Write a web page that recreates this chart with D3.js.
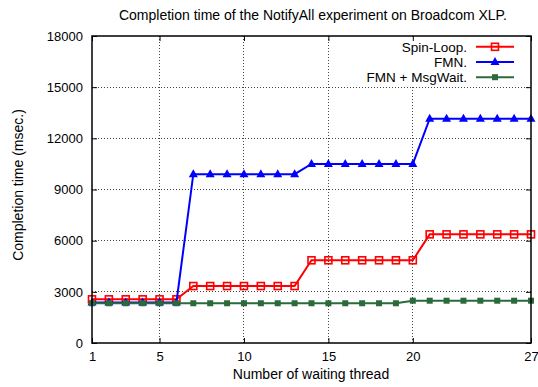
<!DOCTYPE html>
<html>
<head>
<meta charset="utf-8">
<script src="https://cdn.jsdelivr.net/npm/d3@7"></script>
<style>
  body { margin: 0; background: #fff; }
  svg { display: block; font-family: "Liberation Sans", Arial, sans-serif; }
</style>
</head>
<body>
<div id="chart"></div>
<script>
// waiting threads 1..27
const threads = [1,2,3,4,5,6,7,8,9,10,11,12,13,14,15,16,17,18,19,20,21,22,23,24,25,26,27]

const spinLoop = [2560,2560,2560,2560,2560,2560,
                  3340,3340,3340,3340,3340,3340,3340,
                  4850,4850,4850,4850,4850,4850,4850,
                  6370,6370,6370,6370,6370,6370,6370]
const fmn = [2380,2380,2380,2380,2380,2380,
             9900,9900,9900,9900,9900,9900,9900,
             10500,10500,10500,10500,10500,10500,10500,
             13150,13150,13150,13150,13150,13150,13150]
const fmnMsgWait = [2330,2330,2330,2330,2330,2330,2330,2330,2330,2330,
                    2330,2330,2330,2330,2330,2330,2330,2330,2330,
                    2480,2480,2480,2480,2480,2480,2480,2480]

const seriesNames = ['Spin-Loop.', 'FMN.', 'FMN + MsgWait.']
const xTicks = [1, 5, 10, 15, 20, 27]
const yTicks = [0, 3000, 6000, 9000, 12000, 15000, 18000]

const width = 538
const height = 387
const plotLeft = 92, plotRight = 531, plotTop = 36, plotBottom = 343

const x = d3.scaleLinear().domain([1, 27]).range([plotLeft, plotRight])
const y = d3.scaleLinear().domain([0, 18000]).range([plotBottom, plotTop])

const svg = d3.select('#chart').append('svg')
  .attr('width', width)
  .attr('height', height)

// grid
const grid = svg.append('g').attr('class', 'grid')
grid.selectAll('line.gy')
  .data(yTicks.filter(d => d > 0 && d < 18000)).enter()
  .append('line')
    .attr('x1', plotLeft).attr('x2', plotRight)
    .attr('y1', d => y(d)).attr('y2', d => y(d))
grid.selectAll('line.gx')
  .data(xTicks.filter(d => d > 1 && d < 27)).enter()
  .append('line')
    .attr('x1', d => x(d)).attr('x2', d => x(d))
    .attr('y1', plotTop).attr('y2', plotBottom)
grid.selectAll('line')
  .attr('stroke', '#444')
  .attr('stroke-width', 1)
  .attr('stroke-dasharray', '1,2')
  .attr('shape-rendering', 'crispEdges')

// key background (opaque)
svg.append('rect')
  .attr('x', 352).attr('y', plotTop + 1)
  .attr('width', plotRight - 353).attr('height', 48)
  .attr('fill', '#fff')

// axes with inward ticks
const fmt = d3.format('d')
const axisLeft = d3.axisLeft(y).tickValues(yTicks).tickFormat(fmt).tickSize(-5).tickPadding(9).tickSizeOuter(0)
const axisRight = d3.axisRight(y).tickValues(yTicks).tickSize(-5).tickFormat('').tickSizeOuter(0)
const axisBottom = d3.axisBottom(x).tickValues(xTicks).tickFormat(fmt).tickSize(-5).tickPadding(9).tickSizeOuter(0)
const axisTop = d3.axisTop(x).tickValues(xTicks).tickSize(-5).tickFormat('').tickSizeOuter(0)

svg.append('g').attr('transform', `translate(${plotLeft},0)`).call(axisLeft)
svg.append('g').attr('transform', `translate(${plotRight},0)`).call(axisRight)
svg.append('g').attr('transform', `translate(0,${plotBottom})`).call(axisBottom)

svg.selectAll('.domain').remove()
svg.selectAll('.tick line').attr('stroke', '#000').attr('stroke-width', 1)
svg.selectAll('.tick text').attr('font-size', 13).attr('fill', '#000')
  .attr('font-family', '"Liberation Sans", Arial, sans-serif')

// series
const series = [
  { name: seriesNames[0], values: spinLoop, color: '#ff0000', marker: 'openSquare' },
  { name: seriesNames[1], values: fmn, color: '#0000ff', marker: 'triangle' },
  { name: seriesNames[2], values: fmnMsgWait, color: '#2b6a3a', marker: 'square' }
]

const line = d3.line().x((d, i) => x(threads[i])).y(d => y(d))

function drawMarker(g, type, color, cx, cy) {
  if (type === 'openSquare') {
    g.append('rect').attr('x', cx - 3.5).attr('y', cy - 3.5).attr('width', 7).attr('height', 7)
      .attr('fill', 'none').attr('stroke', color).attr('stroke-width', 1.6)
  } else if (type === 'triangle') {
    g.append('path').attr('d', `M${cx},${cy - 5}L${cx + 4.5},${cy + 3}L${cx - 4.5},${cy + 3}Z`)
      .attr('fill', color)
  } else {
    g.append('rect').attr('x', cx - 3).attr('y', cy - 3).attr('width', 6).attr('height', 6)
      .attr('fill', color)
  }
}

series.forEach(s => {
  const g = svg.append('g')
  g.append('path')
    .datum(s.values)
    .attr('d', line)
    .attr('fill', 'none')
    .attr('stroke', s.color)
    .attr('stroke-width', 2)
  s.values.forEach((v, i) => drawMarker(g, s.marker, s.color, x(threads[i]), y(v)))
})

// legend
const legend = svg.append('g')
series.forEach((s, i) => {
  const ly = 46.8 + i * 15.2
  legend.append('text')
    .text(s.name)
    .attr('x', 467).attr('y', ly)
    .attr('dy', '0.35em')
    .attr('text-anchor', 'end')
    .attr('font-size', 13.5)
  legend.append('line')
    .attr('x1', 476).attr('x2', 514)
    .attr('y1', ly).attr('y2', ly)
    .attr('stroke', s.color).attr('stroke-width', 2)
  drawMarker(legend, s.marker, s.color, 495, ly)
})

// top mirror ticks, drawn above the key background
svg.append('g').attr('transform', `translate(0,${plotTop})`).call(axisTop)
  .call(g => g.select('.domain').remove())
  .selectAll('.tick line').attr('stroke', '#000')

// frame
svg.append('rect')
  .attr('x', plotLeft).attr('y', plotTop)
  .attr('width', plotRight - plotLeft).attr('height', plotBottom - plotTop)
  .attr('fill', 'none').attr('stroke', '#000').attr('stroke-width', 1.5)

// titles
svg.append('text')
  .text('Completion time of the NotifyAll experiment on Broadcom XLP.')
  .attr('x', 313).attr('y', 15).attr('dy', '0.35em')
  .attr('text-anchor', 'middle').attr('font-size', 14)

svg.append('text')
  .text('Number of waiting thread')
  .attr('x', 311).attr('y', 374).attr('dy', '0.35em')
  .attr('text-anchor', 'middle').attr('font-size', 14)

svg.append('text')
  .text('Completion time (msec.)')
  .attr('transform', `translate(18, 185) rotate(-90)`)
  .attr('dy', '0.35em')
  .attr('text-anchor', 'middle').attr('font-size', 14)
</script>
</body>
</html>
